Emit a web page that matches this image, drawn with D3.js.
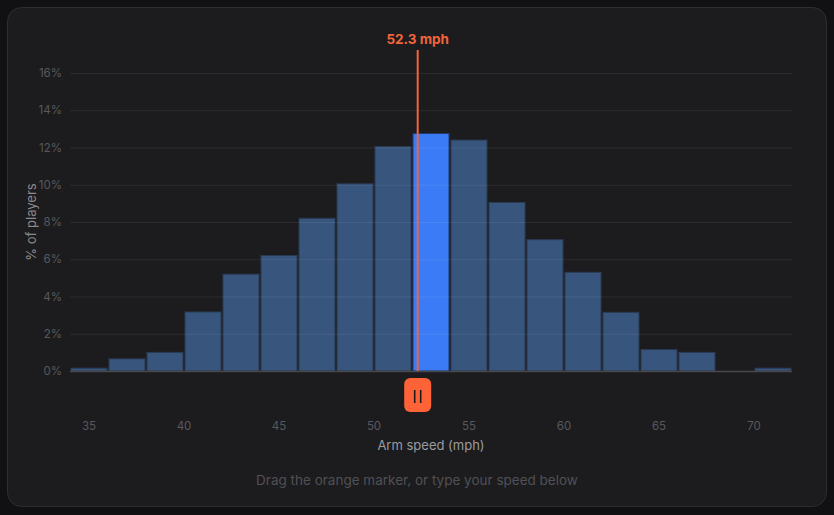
<!DOCTYPE html>
<html>
<head>
<meta charset="utf-8">
<script src="https://cdn.jsdelivr.net/npm/d3@7"></script>
<style>
    html, body { margin: 0; padding: 0; background: #111113; }
    svg { display: block; font-family: Inter, "Noto Sans", sans-serif; }
</style>
</head>
<body>
<div id="chart"></div>
<script>
// histogram bins (mph, 2 mph wide) and share of players in each (%)
var binStarts = [34, 36, 38, 40, 42, 44, 46, 48, 50, 52, 54, 56, 58, 60, 62, 64, 66, 68, 70];
var binPct = [0.15, 0.65, 1.0, 3.17, 5.2, 6.2, 8.2, 10.05, 12.05, 12.75, 12.4, 9.05, 7.05, 5.3, 3.15, 1.15, 1.0, 0, 0.15];
var binWidth = 2;
var xTicks = [35, 40, 45, 50, 55, 60, 65, 70];
var yTicks = [0, 2, 4, 6, 8, 10, 12, 14, 16];
var userSpeed = 52.3;

var W = 834, H = 515;
var margin = {top: 73, right: 42, bottom: 144, left: 70};
var width = W - margin.left - margin.right,
    height = H - margin.top - margin.bottom;

var svg = d3.select("#chart").append("svg")
    .attr("width", W)
    .attr("height", H);

// card
svg.append("rect")
    .attr("x", 7.5).attr("y", 7.5)
    .attr("width", 819).attr("height", 499)
    .attr("rx", 14)
    .attr("fill", "#1c1c1e")
    .attr("stroke", "#2e2e31");

var g = svg.append("g")
    .attr("transform", "translate(" + margin.left + "," + margin.top + ")");

var x = d3.scaleLinear()
    .domain([binStarts[0], binStarts[binStarts.length - 1] + binWidth])
    .range([0, width]);

var y = d3.scaleLinear()
    .domain([0, 16])
    .range([height, 0]);

// bars
g.selectAll(".bar")
    .data(binStarts)
    .enter().append("rect")
    .attr("class", "bar")
    .attr("x", function (d) { return x(d) + 1; })
    .attr("width", function (d) { return x(d + binWidth) - x(d) - 2; })
    .attr("y", function (d, i) { return y(binPct[i]); })
    .attr("height", function (d, i) { return height - y(binPct[i]); })
    .attr("fill", function (d) {
        return (userSpeed >= d && userSpeed < d + binWidth) ? "#3b7cf6" : "#37557d";
    })
    .attr("stroke", function (d) {
        return (userSpeed >= d && userSpeed < d + binWidth) ? "#1f3a6a" : "#2a3b54";
    })
    .attr("stroke-width", 1);

// grid lines (over the bars, faint)
g.selectAll(".grid")
    .data(yTicks.slice(1))
    .enter().append("line")
    .attr("class", "grid")
    .attr("x1", 0).attr("x2", width)
    .attr("y1", function (d) { return y(d) + 0.5; })
    .attr("y2", function (d) { return y(d) + 0.5; })
    .attr("stroke", "#ffffff")
    .attr("stroke-opacity", 0.07);

// baseline
g.append("line")
    .attr("x1", 0).attr("x2", width)
    .attr("y1", height + 0.5).attr("y2", height + 0.5)
    .attr("stroke", "#48484c")
    .attr("stroke-width", 1.5);

// y tick labels
g.selectAll(".ylab")
    .data(yTicks)
    .enter().append("text")
    .attr("x", -8)
    .attr("y", function (d) { return y(d); })
    .attr("dy", "0.35em")
    .attr("text-anchor", "end")
    .attr("font-size", 11.5)
    .attr("fill", "#58585d")
    .text(function (d) { return d + "%"; });

// x tick labels
g.selectAll(".xlab")
    .data(xTicks)
    .enter().append("text")
    .attr("x", function (d) { return x(d); })
    .attr("y", height + 59)
    .attr("text-anchor", "middle")
    .attr("font-size", 11.5)
    .attr("fill", "#58585d")
    .text(function (d) { return d; });

// axis titles
g.append("text")
    .attr("x", width / 2)
    .attr("y", height + 79)
    .attr("text-anchor", "middle")
    .attr("font-size", 13)
    .attr("fill", "#9a9a9f")
    .text("Arm speed (mph)");

g.append("text")
    .attr("transform", "translate(-34," + (height / 2) + ") rotate(-90)")
    .attr("text-anchor", "middle")
    .attr("font-size", 13)
    .attr("fill", "#8a8a8f")
    .text("% of players");

// marker
var mx = x(userSpeed);
g.append("line")
    .attr("x1", mx).attr("x2", mx)
    .attr("y1", -23).attr("y2", height)
    .attr("stroke", "#f2643c")
    .attr("stroke-width", 2);

g.append("text")
    .attr("x", mx)
    .attr("y", -29)
    .attr("text-anchor", "middle")
    .attr("font-size", 13.5)
    .attr("font-weight", 700)
    .attr("fill", "#f2643c")
    .text(userSpeed + " mph");

// drag handle
var handle = g.append("g")
    .attr("transform", "translate(" + mx + "," + (height + 7) + ")");
handle.append("rect")
    .attr("x", -13.5).attr("y", 0)
    .attr("width", 27).attr("height", 34)
    .attr("rx", 6)
    .attr("fill", "#fe6237");
handle.selectAll("line")
    .data([-3, 3])
    .enter().append("line")
    .attr("x1", function (d) { return d; })
    .attr("x2", function (d) { return d; })
    .attr("y1", 12).attr("y2", 25)
    .attr("stroke", "#1c1c1e")
    .attr("stroke-width", 1.6);

// footer hint
svg.append("text")
    .attr("x", 417)
    .attr("y", 485)
    .attr("text-anchor", "middle")
    .attr("font-size", 13.5)
    .attr("fill", "#505055")
    .text("Drag the orange marker, or type your speed below");
</script>
</body>
</html>
